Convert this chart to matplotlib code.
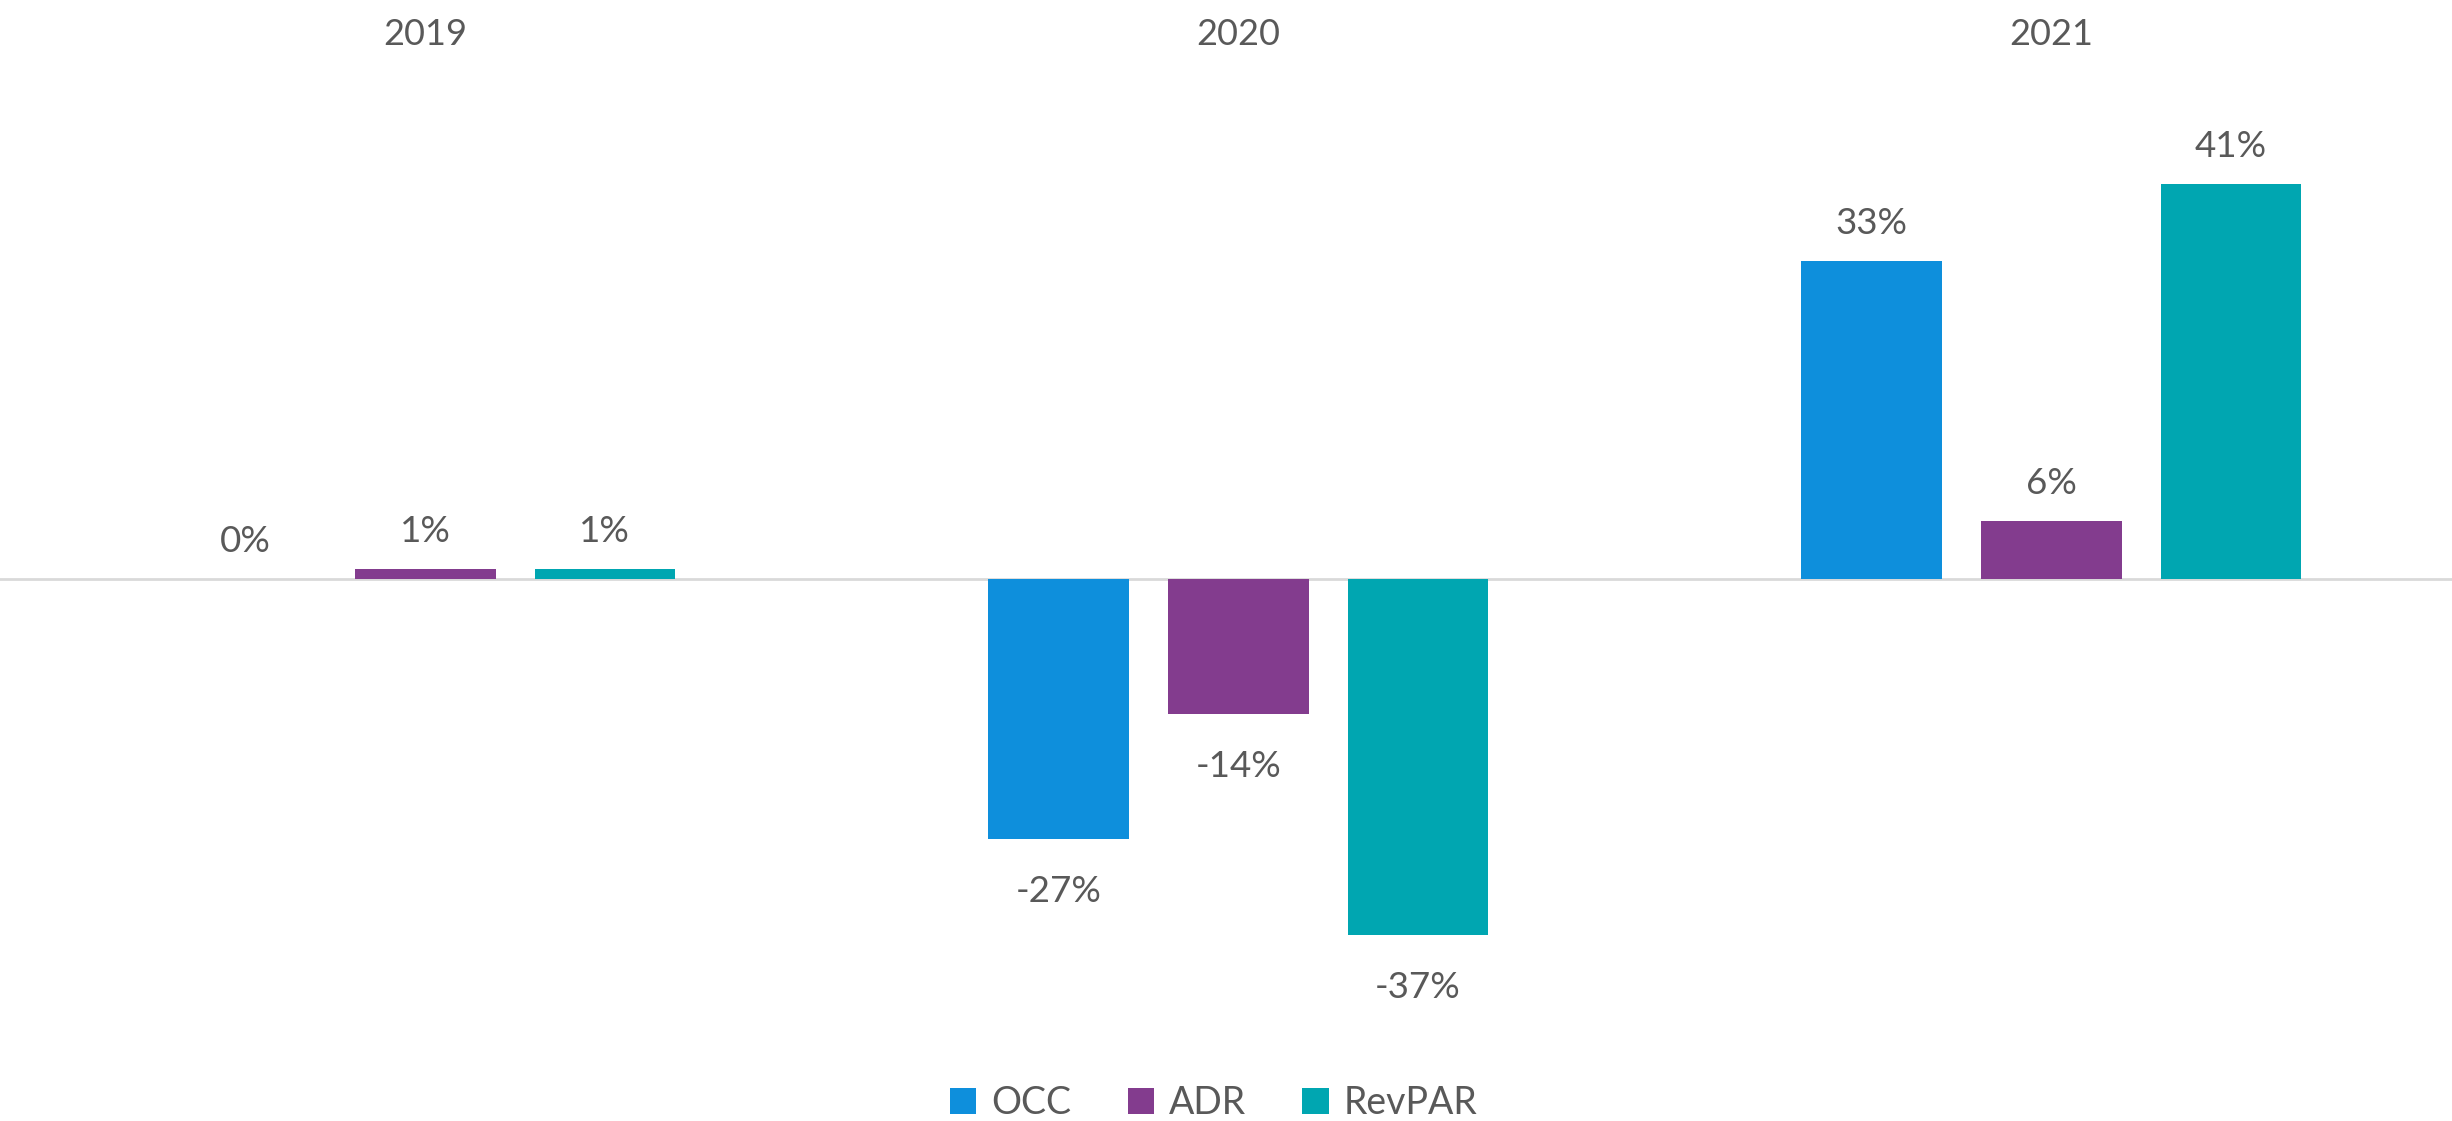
import matplotlib.pyplot as plt
import numpy as np

years = ["2019", "2020", "2021"]
series = ["OCC", "ADR", "RevPAR"]
occ = [0, -27, 33]
adr = [1, -14, 6]
revpar = [1, -37, 41]

colors = ["#0E8FDC", "#833C8E", "#00A6B1"]
text_gray = "#595959"

plt.rcParams['font.family'] = ['Lato', 'DejaVu Sans']

fig = plt.figure(figsize=(24.52, 11.21), dpi=100)
ax = fig.add_axes([0, 0, 1, 1])

x = np.arange(len(years))
width = 0.173
pitch = 0.221

for i, (name, vals) in enumerate(zip(series, [occ, adr, revpar])):
    pos = x + (i - 1) * pitch
    bars = ax.bar(pos, vals, width, color=colors[i], label=name, zorder=3)
    for xp, v in zip(pos, vals):
        off = 27 if v >= 0 else -38
        ax.annotate(f"{v}%", (xp, v), xytext=(0, off), textcoords="offset points",
                    ha="center", va="center", fontsize=26.5, color=text_gray)

ax.axhline(0, color="#D9D9D9", lw=2, zorder=2)

ax.set_xlim(-0.523, 2.493)
ax.set_ylim(-56.3, 60.1)

for xp, yr in zip(x, years):
    ax.text(xp, 56.5, yr, ha="center", va="center", fontsize=26, color=text_gray)

ax.axis("off")

leg = fig.legend(loc="center", bbox_to_anchor=(0.495, 0.016), ncol=3, frameon=False,
                 fontsize=27, handlelength=0.7, handleheight=0.7, handletextpad=0.4,
                 columnspacing=1.5, labelcolor=text_gray)

fig.savefig("out.png", dpi=100)
